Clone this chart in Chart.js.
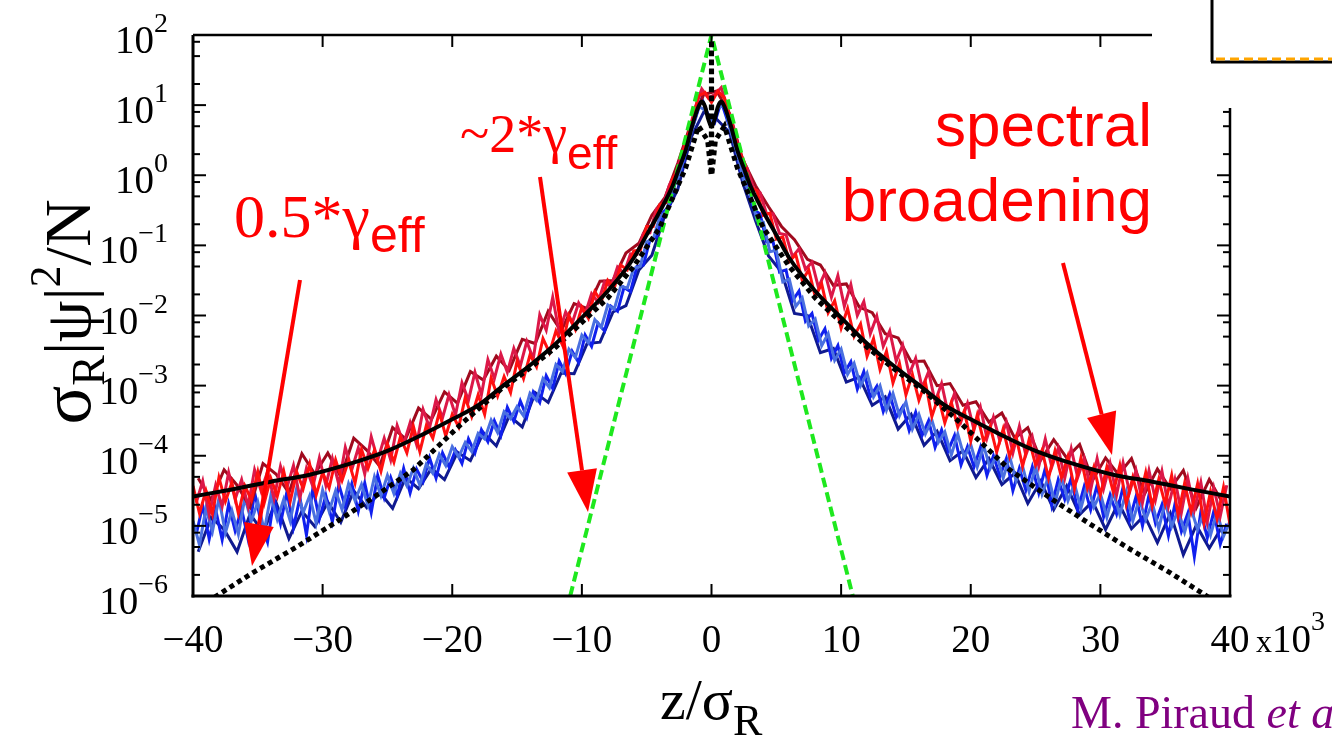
<!DOCTYPE html>
<html>
<head>
<meta charset="UTF-8">
<title>Density profile</title>
<script src="https://cdn.jsdelivr.net/npm/chart.js"></script>
<style>
  html, body { margin: 0; padding: 0; background: #fff; }
  #wrap { width: 1332px; height: 738px; }
</style>
</head>
<body>
<div id="wrap"><canvas id="chart" width="1332" height="738"></canvas></div>
<script>
// axes
const xTicks = [-40, -30, -20, -10, 0, 10, 20, 30, 40];
const yDecades = [-6, -5, -4, -3, -2, -1, 0, 1, 2];
const minorSteps = [2, 5, 8];

// sample positions of the noisy curves (z in units of 10^3)
const zA = [-40,-39.5,-39,-38.5,-38,-37.5,-37,-36.5,-36,-35.5,-35,-34.5,-34,-33.5,-33,-32.5,-32,-31.5,-31,-30.5,
  -30,-29.5,-29,-28.5,-28,-27.5,-27,-26.5,-26,-25.5,-25,-24.5,-24,-23.5,-23,-22.5,-22,-21.5,-21,-20.5,
  -20,-19.5,-19,-18.5,-18,-17.5,-17,-16.5,-16,-15.5,-15,-14.5,-14,-13.5,-13,-12.5,-12,-11.5,-11,-10.5,
  -10,-9.5,-9,-8.5,-8,-7.5,-7,-6.5,-6,-5.5,-5,-4.5,-4,-3.5,-3,-2.5,-2,-1.5,-1,-0.5,
  0,
  0.5,1,1.5,2,2.5,3,3.5,4,4.5,5,5.5,6,6.5,7,7.5,8,8.5,9,9.5,10,
  10.5,11,11.5,12,12.5,13,13.5,14,14.5,15,15.5,16,16.5,17,17.5,18,18.5,19,19.5,20,
  20.5,21,21.5,22,22.5,23,23.5,24,24.5,25,25.5,26,26.5,27,27.5,28,28.5,29,29.5,30,
  30.5,31,31.5,32,32.5,33,33.5,34,34.5,35,35.5,36,36.5,37,37.5,38,38.5,39,39.5,40];
const zB = [-39.75,-39.25,-38.75,-38.25,-37.75,-37.25,-36.75,-36.25,-35.75,-35.25,
  -34.75,-34.25,-33.75,-33.25,-32.75,-32.25,-31.75,-31.25,-30.75,-30.25,
  -29.75,-29.25,-28.75,-28.25,-27.75,-27.25,-26.75,-26.25,-25.75,-25.25,
  -24.75,-24.25,-23.75,-23.25,-22.75,-22.25,-21.75,-21.25,-20.75,-20.25,
  -19.75,-19.25,-18.75,-18.25,-17.75,-17.25,-16.75,-16.25,-15.75,-15.25,
  -14.75,-14.25,-13.75,-13.25,-12.75,-12.25,-11.75,-11.25,-10.75,-10.25,
  -9.75,-9.25,-8.75,-8.25,-7.75,-7.25,-6.75,-6.25,-5.75,-5.25,
  -4.75,-4.25,-3.75,-3.25,-2.75,-2.25,-1.75,-1.25,-0.75,-0.25,
  0.25,0.75,1.25,1.75,2.25,2.75,3.25,3.75,4.25,4.75,
  5.25,5.75,6.25,6.75,7.25,7.75,8.25,8.75,9.25,9.75,
  10.25,10.75,11.25,11.75,12.25,12.75,13.25,13.75,14.25,14.75,
  15.25,15.75,16.25,16.75,17.25,17.75,18.25,18.75,19.25,19.75,
  20.25,20.75,21.25,21.75,22.25,22.75,23.25,23.75,24.25,24.75,
  25.25,25.75,26.25,26.75,27.25,27.75,28.25,28.75,29.25,29.75,
  30.25,30.75,31.25,31.75,32.25,32.75,33.25,33.75,34.25,34.75,
  35.25,35.75,36.25,36.75,37.25,37.75,38.25,38.75,39.25,39.75];
const zC = [-39.6,-38.6,-37.6,-36.6,-35.6,-34.6,-33.6,-32.6,-31.6,-30.6,
  -29.6,-28.6,-27.6,-26.6,-25.6,-24.6,-23.6,-22.6,-21.6,-20.6,
  -19.6,-18.6,-17.6,-16.6,-15.6,-14.6,-13.6,-12.6,-11.6,-10.6,
  -9.6,-8.6,-7.6,-6.6,-5.6,-4.6,-3.6,-2.6,-1.6,-0.6,
  0.4,1.4,2.4,3.4,4.4,5.4,6.4,7.4,8.4,9.4,
  10.4,11.4,12.4,13.4,14.4,15.4,16.4,17.4,18.4,19.4,
  20.4,21.4,22.4,23.4,24.4,25.4,26.4,27.4,28.4,29.4,
  30.4,31.4,32.4,33.4,34.4,35.4,36.4,37.4,38.4,39.4];

// log10 of sigma_R |psi|^2 / N
const redLog = [-4.43,-4.82,-4.50,-4.83,-4.31,-4.65,-4.38,-4.82,-4.43,-4.63,
  -4.23,-4.67,-4.32,-4.58,-4.22,-4.65,-4.23,-4.47,-4.12,-4.56,
  -4.24,-4.46,-4.06,-4.35,-4.07,-4.39,-3.91,-4.18,-3.92,-4.22,
  -3.83,-4.09,-3.73,-3.96,-3.58,-3.94,-3.57,-3.75,-3.38,-3.72,
  -3.41,-3.59,-3.17,-3.44,-3.13,-3.41,-2.89,-3.15,-2.87,-3.10,
  -2.65,-2.90,-2.56,-2.73,-2.33,-2.53,-2.22,-2.42,-2.00,-2.20,
  -1.88,-2.04,-1.66,-1.80,-1.50,-1.61,-1.28,-1.35,-1.08,-1.07,
  -0.73,-0.73,-0.42,-0.39,-0.05,0.10,0.45,0.75,1.13,1.18,
  1.04,
  1.20,1.10,0.78,0.40,0.20,-0.17,-0.22,-0.57,-0.54,-0.91,
  -0.88,-1.23,-1.13,-1.50,-1.35,-1.73,-1.55,-1.96,-1.79,-2.18,
  -1.90,-2.30,-2.12,-2.58,-2.33,-2.77,-2.51,-2.96,-2.68,-3.13,
  -2.84,-3.21,-2.95,-3.44,-3.16,-3.53,-3.24,-3.59,-3.36,-3.79,
  -3.42,-3.80,-3.58,-3.95,-3.62,-4.01,-3.73,-4.15,-3.77,-4.13,
  -3.92,-4.32,-3.93,-4.31,-4.01,-4.47,-4.03,-4.46,-4.16,-4.56,
  -4.16,-4.52,-4.14,-4.69,-4.31,-4.64,-4.24,-4.72,-4.34,-4.69,
  -4.28,-4.85,-4.39,-4.80,-4.40,-4.96,-4.51,-4.90,-4.45,-4.98];
const crimsonLog = [-4.67,-4.36,-4.84,-4.42,-4.72,-4.24,-4.62,-4.34,-4.72,-4.20,
  -4.50,-4.23,-4.61,-4.15,-4.45,-4.14,-4.60,-4.18,-4.44,-4.03,
  -4.42,-4.04,-4.41,-3.88,-4.20,-3.89,-4.26,-3.73,-4.06,-3.75,
  -4.06,-3.57,-3.83,-3.53,-3.84,-3.34,-3.60,-3.20,-3.46,-3.13,
  -3.42,-2.96,-3.21,-2.81,-3.13,-2.63,-2.90,-2.55,-2.81,-2.47,
  -2.72,-2.37,-2.62,-1.99,-2.21,-1.74,-2.25,-1.95,-2.11,-1.82,
  -1.98,-1.69,-1.81,-1.52,-1.59,-1.31,-1.40,-1.12,-1.13,-0.83,
  -0.82,-0.48,-0.43,-0.14,0.03,0.32,0.61,0.97,1.23,1.10,
  1.15,1.25,0.95,0.65,0.27,0.10,-0.19,-0.25,-0.55,-0.55,
  -0.83,-0.85,-1.16,-1.05,-1.34,-1.24,-1.60,-1.39,-1.74,-1.43,
  -1.87,-1.56,-2.00,-1.80,-2.26,-2.01,-2.44,-2.22,-2.65,-2.42,
  -2.84,-2.61,-3.03,-2.80,-3.23,-2.97,-3.39,-3.11,-3.51,-3.25,
  -3.63,-3.31,-3.75,-3.45,-3.79,-3.52,-3.96,-3.58,-3.99,-3.73,
  -4.15,-3.76,-4.16,-3.89,-4.32,-3.90,-4.31,-4.04,-4.49,-4.04,
  -4.47,-4.11,-4.56,-4.10,-4.52,-4.21,-4.67,-4.21,-4.63,-4.22,
  -4.72,-4.34,-4.81,-4.32,-4.77,-4.38,-4.94,-4.46,-4.86,-4.42];
const darkRedLog = [-4.32,-4.63,-4.20,-4.42,-4.73,-4.11,-4.26,-4.53,-3.97,-4.26,
  -3.96,-4.30,-3.75,-3.92,-4.15,-3.60,-3.76,-3.32,-3.48,-3.09,
  -3.25,-2.80,-2.92,-2.58,-2.78,-2.34,-2.40,-1.94,-2.22,-1.83,
  -1.90,-1.51,-1.50,-1.11,-0.97,-0.57,-0.32,0.17,0.73,1.15,
  1.20,0.88,0.23,-0.15,-0.45,-0.73,-0.92,-1.20,-1.28,-1.57,
  -1.55,-1.88,-1.96,-2.26,-2.32,-2.66,-2.65,-3.00,-2.97,-3.28,
  -3.23,-3.52,-3.39,-3.75,-3.60,-4.06,-3.77,-4.03,-3.84,-4.35,
  -4.03,-4.27,-4.04,-4.55,-4.19,-4.47,-4.21,-4.74,-4.34,-4.66];
const blueLog = [-5.12,-4.71,-5.19,-4.77,-5.20,-4.69,-5.07,-4.76,-5.19,-4.52,
  -4.95,-5.23,-4.61,-4.97,-4.51,-5.02,-4.60,-5.13,-4.46,-4.90,
  -4.57,-4.94,-4.41,-4.73,-4.40,-4.79,-4.39,-4.81,-4.28,-4.60,
  -4.31,-4.57,-4.18,-4.53,-4.19,-4.37,-4.03,-4.32,-3.96,-4.16,
  -3.92,-4.11,-3.76,-3.96,-3.63,-3.80,-3.50,-3.71,-3.31,-3.51,
  -3.22,-3.45,-3.09,-3.24,-2.86,-3.04,-2.65,-2.83,-2.51,-2.67,
  -2.28,-2.44,-2.11,-2.22,-1.87,-1.94,-1.60,-1.66,-1.30,-1.28,
  -0.92,-0.88,-0.53,-0.44,-0.07,0.10,0.53,0.80,1.10,0.85,
  0.75,1.05,0.77,0.51,0.07,-0.07,-0.49,-0.55,-0.95,-0.95,
  -1.38,-1.35,-1.79,-1.65,-2.08,-1.97,-2.35,-2.19,-2.61,-2.43,
  -2.82,-2.66,-3.05,-2.80,-3.16,-3.01,-3.37,-3.12,-3.45,-3.30,
  -3.64,-3.38,-3.71,-3.50,-3.88,-3.63,-3.93,-3.71,-4.13,-3.87,
  -4.16,-3.88,-4.28,-4.00,-4.29,-4.04,-4.50,-4.18,-4.49,-4.16,
  -4.53,-4.18,-4.71,-4.34,-4.62,-4.32,-4.78,-4.44,-4.77,-4.42,
  -4.87,-4.56,-4.83,-4.45,-4.92,-4.58,-5.00,-4.56,-4.96,-4.70,
  -5.14,-4.69,-5.08,-4.82,-5.44,-4.80,-5.17,-4.79,-5.26,-4.97];
const royalLog = [-4.93,-5.27,-4.75,-5.08,-4.61,-5.10,-4.78,-5.12,-4.60,-4.93,
  -4.66,-5.07,-4.57,-4.91,-4.62,-4.93,-4.46,-4.81,-4.57,-4.96,
  -4.49,-4.79,-4.50,-4.77,-4.40,-4.64,-4.41,-4.71,-4.30,-4.57,
  -4.28,-4.54,-4.25,-4.43,-4.18,-4.42,-4.12,-4.25,-3.98,-4.14,
  -3.87,-4.02,-3.81,-3.94,-3.68,-3.76,-3.49,-3.67,-3.37,-3.47,
  -3.30,-3.43,-3.11,-3.21,-2.90,-3.03,-2.70,-2.80,-2.48,-2.60,
  -2.28,-2.39,-2.06,-2.17,-1.85,-1.91,-1.58,-1.61,-1.33,-1.30,
  -0.95,-0.91,-0.60,-0.52,-0.20,0.00,0.33,0.65,0.98,0.93,
  0.74,
  0.96,1.00,0.62,0.30,-0.10,-0.25,-0.64,-0.67,-1.09,-1.07,
  -1.52,-1.48,-1.87,-1.75,-2.15,-2.05,-2.43,-2.26,-2.64,-2.48,
  -2.84,-2.68,-3.00,-2.82,-3.16,-3.00,-3.35,-3.11,-3.43,-3.23,
  -3.62,-3.41,-3.69,-3.49,-3.81,-3.66,-3.99,-3.69,-4.02,-3.84,
  -4.16,-3.86,-4.18,-3.99,-4.32,-4.01,-4.36,-4.15,-4.51,-4.15,
  -4.55,-4.30,-4.68,-4.31,-4.64,-4.40,-4.75,-4.40,-4.73,-4.54,
  -4.88,-4.52,-4.84,-4.51,-4.93,-4.62,-4.91,-4.67,-5.04,-4.66,
  -5.01,-4.77,-5.09,-4.76,-5.05,-4.81,-5.13,-4.80,-5.15,-4.93];
const navyLog = [-5.37,-4.88,-5.05,-5.37,-4.83,-5.09,-4.66,-5.18,-4.79,-5.01,
  -4.66,-4.95,-4.50,-4.74,-4.52,-4.75,-4.31,-4.47,-4.18,-4.34,
  -3.95,-4.07,-3.67,-3.86,-3.43,-3.59,-3.10,-3.24,-2.82,-2.83,
  -2.40,-2.38,-1.95,-1.86,-1.35,-1.14,-0.57,-0.20,0.53,0.90,
  0.80,0.61,-0.10,-0.65,-1.15,-1.38,-1.97,-2.00,-2.53,-2.47,
  -2.95,-2.88,-3.28,-3.16,-3.62,-3.41,-3.85,-3.65,-4.07,-3.93,
  -4.31,-4.04,-4.41,-4.25,-4.68,-4.36,-4.77,-4.43,-4.84,-4.65,
  -5.05,-4.67,-5.04,-4.85,-5.24,-4.82,-5.41,-4.99,-5.32,-5.01];

// smooth theory curve (black solid)
const solidZ = [-40,-37,-34,-31,-28,-25,-22,-20,-18,-16,-14,-12,-10,-8,-6,-5,-4,-3,-2.5,-2,-1.5,-1,-0.75,-0.5,-0.25,
  0,
  0.25,0.5,0.75,1,1.5,2,2.5,3,4,5,6,8,10,12,14,16,18,20,22,25,28,31,34,37,40];
const solidLog = [-4.58,-4.48,-4.37,-4.27,-4.12,-3.93,-3.67,-3.48,-3.28,-2.99,-2.71,-2.40,-2.03,-1.65,-1.18,-0.85,-0.52,-0.15,0.10,0.35,0.70,0.98,1.05,0.98,0.80,
  0.69,
  0.80,0.98,1.05,0.98,0.70,0.35,0.10,-0.15,-0.52,-0.85,-1.18,-1.65,-2.03,-2.40,-2.71,-2.99,-3.28,-3.48,-3.67,-3.93,-4.12,-4.27,-4.37,-4.48,-4.58];

// exponential tail (black dotted)
const dotZ = [-40,-38.2,-35.4,-32,-29,-26.35,-23,-19.2,-16.3,-14,-12,-10,-8,-6,-4,-2,-1,-0.3,-0.02,
  0,
  0.02,0.3,1,2,4,6,8,10,12,14,16.3,19.2,23,26.35,29,32,35.4,38.2,40];
const dotLog = [-6.25,-6.0,-5.67,-5.3,-4.95,-4.63,-4.2,-3.53,-3.06,-2.75,-2.45,-2.1,-1.75,-1.3,-0.75,0.1,0.7,0.5,0.0,
  1.93,
  0.0,0.5,0.7,0.1,-0.75,-1.3,-1.75,-2.1,-2.45,-2.75,-3.06,-3.53,-4.2,-4.63,-4.95,-5.3,-5.67,-6.0,-6.25];

// steep exponential (green dashed)
const greenZ = [-10.9, 0, 10.9];
const greenLog = [-6, 2, -6];

const pts = (zs, logs) => zs.map((z, i) => ({ x: z, y: Math.pow(10, logs[i]) }));

const SERIF = 'Liberation Serif';
const SANS = 'Liberation Sans';

function line(ctx, x1, y1, x2, y2) {
  ctx.beginPath(); ctx.moveTo(x1, y1); ctx.lineTo(x2, y2); ctx.stroke();
}

// pieces: [text, font, dy]
function drawRun(ctx, pieces, x, y) {
  let cx = x;
  pieces.forEach(p => {
    ctx.font = p[1];
    ctx.fillText(p[0], cx, y + p[2]);
    cx += ctx.measureText(p[0]).width;
  });
  return cx;
}
function runWidth(ctx, pieces) {
  let w = 0;
  pieces.forEach(p => { ctx.font = p[1]; w += ctx.measureText(p[0]).width; });
  return w;
}

function arrow(ctx, x1, y1, x2, y2, len, half) {
  const a = Math.atan2(y2 - y1, x2 - x1);
  const bx = x2 - len * Math.cos(a), by = y2 - len * Math.sin(a);
  line(ctx, x1, y1, bx, by);
  ctx.beginPath();
  ctx.moveTo(x2, y2);
  ctx.lineTo(bx + half * Math.sin(a), by - half * Math.cos(a));
  ctx.lineTo(bx - half * Math.sin(a), by + half * Math.cos(a));
  ctx.closePath();
  ctx.fill();
}

const paper = {
  id: 'paper',
  afterDatasetsDraw(chart) {
    const { ctx, chartArea: a } = chart;
    const x = chart.scales.x, y = chart.scales.y;
    ctx.save();

    // the neighbouring panel overlaps the top right corner
    ctx.fillStyle = '#fff';
    ctx.fillRect(1152, 0, 180, 108);
    ctx.strokeStyle = '#000';
    ctx.lineWidth = 3;
    line(ctx, 1212, 0, 1212, 62);
    line(ctx, 1211, 62, 1332, 62);
    ctx.strokeStyle = '#ffa500';
    ctx.setLineDash([9, 5]);
    line(ctx, 1216, 59, 1332, 59);
    ctx.setLineDash([]);

    // frame
    ctx.strokeStyle = '#000';
    ctx.lineWidth = 3;
    line(ctx, a.left, a.top, a.left, a.bottom + 1.5);
    line(ctx, a.left - 1.5, a.bottom, a.right + 1.5, a.bottom);
    ctx.lineWidth = 2.5;
    line(ctx, a.left, a.top, 1152, a.top);
    line(ctx, a.right, 108, a.right, a.bottom);

    // ticks
    ctx.lineWidth = 2;
    xTicks.forEach(v => {
      const px = x.getPixelForValue(v);
      line(ctx, px, a.bottom, px, a.bottom - 12);
      if (px < 1150) line(ctx, px, a.top, px, a.top + 12);
    });
    yDecades.forEach(e => {
      const v = Math.pow(10, e);
      const py = y.getPixelForValue(v);
      line(ctx, a.left, py, a.left + 13, py);
      if (py > 110) line(ctx, a.right, py, a.right - 13, py);
      if (e < 2) minorSteps.forEach(m => {
        const pm = y.getPixelForValue(m * v);
        line(ctx, a.left, pm, a.left + 7, pm);
        if (pm > 110) line(ctx, a.right, pm, a.right - 7, pm);
      });
    });

    // tick labels
    ctx.fillStyle = '#000';
    ctx.textBaseline = 'alphabetic';
    yDecades.forEach(e => {
      const py = y.getPixelForValue(Math.pow(10, e));
      const ex = e < 0 ? '\u2212' + (-e) : String(e);
      ctx.textAlign = 'right';
      ctx.font = '28px ' + SERIF;
      ctx.fillText(ex, 168, py - 3);
      const w = ctx.measureText(ex).width;
      ctx.font = '39px ' + SERIF;
      ctx.fillText('10', 168 - w, py + 18);
    });
    ctx.textAlign = 'center';
    ctx.font = '39px ' + SERIF;
    xTicks.forEach(v => {
      const px = x.getPixelForValue(v);
      ctx.fillText(v < 0 ? '\u2212' + (-v) : String(v), px, 652);
    });
    ctx.textAlign = 'left';
    drawRun(ctx, [['x', '32px ' + SERIF, 0], ['10', '39px ' + SERIF, 0], ['3', '28px ' + SERIF, -22]], 1256, 652);

    // axis titles
    const xt = [['z/\u03c3', '58px ' + SERIF, 0], ['R', '44px ' + SERIF, 16]];
    drawRun(ctx, xt, 660, 719);

    const yt = [['\u03c3', '72px ' + SERIF, 0], ['R', '46px ' + SERIF, 14], ['|\u03c8|', '66px ' + SERIF, 0],
                ['2', '44px ' + SERIF, -30], ['/N', '66px ' + SERIF, 0]];
    const yw = runWidth(ctx, yt);
    ctx.save();
    ctx.translate(90, 312 + yw / 2);
    ctx.rotate(-Math.PI / 2);
    drawRun(ctx, yt, 0, 0);
    ctx.restore();

    // credit
    ctx.fillStyle = '#800080';
    drawRun(ctx, [['M. Piraud ', '46px ' + SERIF, 0], ['et al.', 'italic 46px ' + SERIF, 0]], 1071, 728);

    // annotations
    ctx.fillStyle = '#ff0000';
    ctx.strokeStyle = '#ff0000';
    ctx.textAlign = 'right';
    ctx.font = '62px ' + SANS;
    ctx.fillText('spectral', 1152, 146);
    ctx.fillText('broadening', 1152, 221);
    ctx.textAlign = 'left';
    drawRun(ctx, [['~2*\u03b3', '54px ' + SERIF, 0], ['eff', '46px ' + SANS, 17]], 460, 152);
    drawRun(ctx, [['0.5*\u03b3', '62px ' + SERIF, 0], ['eff', '50px ' + SANS, 15]], 234, 237);

    ctx.lineWidth = 4;
    arrow(ctx, 300, 280, 252, 566, 42, 15);
    arrow(ctx, 540, 177, 588, 512, 42, 15);
    arrow(ctx, 1063, 263, 1112, 455, 42, 15);

    ctx.restore();
  }
};

const noisy = (label, zs, logs, color, order) => ({
  label, data: pts(zs, logs), borderColor: color, borderWidth: 3,
  borderJoinStyle: 'miter', tension: 0, order
});

new Chart(document.getElementById('chart'), {
  type: 'line',
  data: {
    datasets: [
      { label: 'theory', data: pts(solidZ, solidLog), borderColor: '#000', borderWidth: 4,
        cubicInterpolationMode: 'monotone', order: 0 },
      { label: 'exp tail', data: pts(dotZ, dotLog), borderColor: '#000', borderWidth: 5,
        borderDash: [5, 4], tension: 0, order: 1 },
      { label: 'gamma', data: pts(greenZ, greenLog), borderColor: '#1ee81e', borderWidth: 4,
        borderDash: [10, 5], tension: 0, order: 2 },
      noisy('red', zA, redLog, '#ff1010', 3),
      noisy('crimson', zB, crimsonLog, '#dc1848', 4),
      noisy('dark red', zC, darkRedLog, '#a00a1e', 5),
      noisy('royal', zA, royalLog, '#4a70e0', 6),
      noisy('blue', zB, blueLog, '#1020ee', 7),
      noisy('navy', zC, navyLog, '#101a90', 8)
    ]
  },
  options: {
    responsive: false,
    animation: false,
    devicePixelRatio: 1,
    events: [],
    layout: { padding: { left: 193, right: 102, top: 35, bottom: 142 } },
    elements: { point: { radius: 0 } },
    plugins: { legend: { display: false }, tooltip: { enabled: false } },
    scales: {
      x: { type: 'linear', min: -40, max: 40, display: false },
      y: { type: 'logarithmic', min: 1e-6, max: 1e2, display: false }
    }
  },
  plugins: [paper]
});
</script>
</body>
</html>
